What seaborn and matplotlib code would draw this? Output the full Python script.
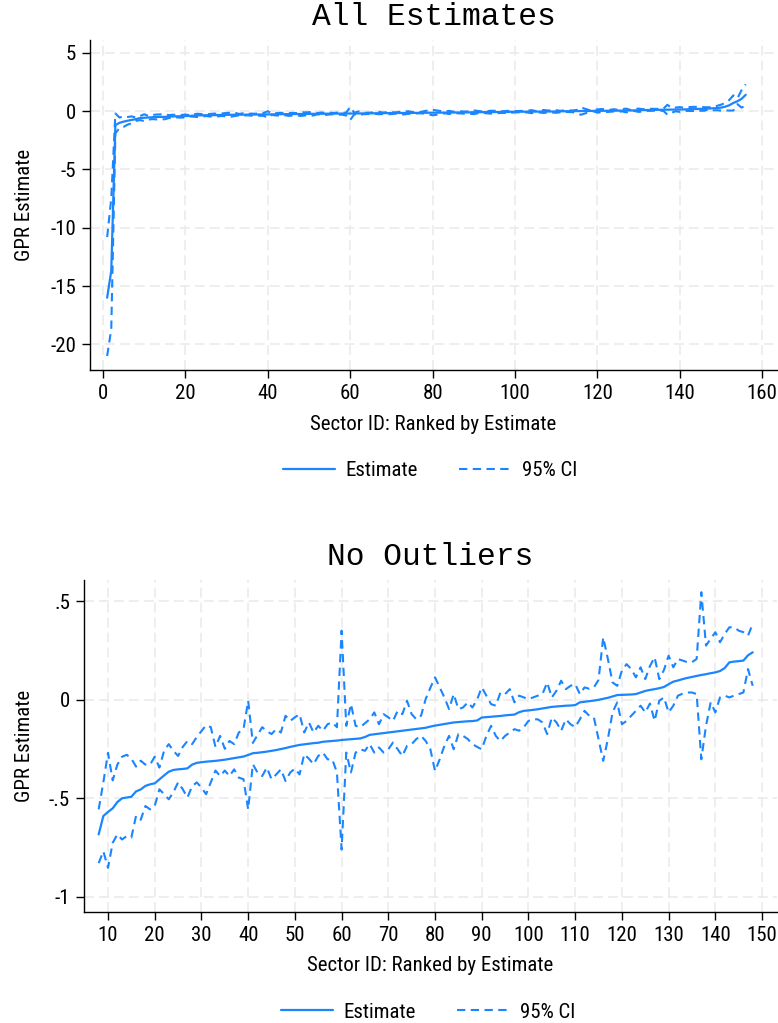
import numpy as np
import pandas as pd
import matplotlib
matplotlib.use("Agg")
import matplotlib.pyplot as plt
import seaborn as sns
from matplotlib.lines import Line2D
from matplotlib import font_manager as fm

# ---------------- data ----------------
sector_id = list(range(1, 157))

estimate_head = [-16.0, -13.7, -1.2, -1.0, -0.9, -0.82, -0.75]
estimate_mid = [
    -0.684, -0.591, -0.570, -0.552, -0.520, -0.501, -0.497, -0.493, -0.466, -0.456,
    -0.438, -0.430, -0.425, -0.405, -0.385, -0.366, -0.357, -0.354, -0.352, -0.349,
    -0.330, -0.321, -0.318, -0.315, -0.313, -0.311, -0.308, -0.305, -0.301, -0.297,
    -0.293, -0.289, -0.281, -0.272, -0.270, -0.267, -0.264, -0.260, -0.256, -0.251,
    -0.246, -0.240, -0.235, -0.230, -0.227, -0.224, -0.221, -0.219, -0.214, -0.212,
    -0.210, -0.208, -0.205, -0.203, -0.201, -0.199, -0.197, -0.190, -0.179, -0.176,
    -0.173, -0.170, -0.167, -0.164, -0.161, -0.158, -0.155, -0.152, -0.149, -0.146,
    -0.143, -0.137, -0.132, -0.128, -0.124, -0.120, -0.116, -0.114, -0.112, -0.110,
    -0.109, -0.106, -0.091, -0.089, -0.087, -0.085, -0.083, -0.080, -0.078, -0.076,
    -0.064, -0.057, -0.055, -0.052, -0.049, -0.045, -0.041, -0.037, -0.035, -0.033,
    -0.031, -0.030, -0.028, -0.014, -0.011, -0.008, -0.005, -0.001, 0.004, 0.009,
    0.016, 0.023, 0.024, 0.025, 0.026, 0.028, 0.036, 0.044, 0.049, 0.053,
    0.058, 0.064, 0.078, 0.091, 0.097, 0.104, 0.110, 0.115, 0.120, 0.125,
    0.129, 0.134, 0.138, 0.145, 0.160, 0.189, 0.193, 0.195, 0.198, 0.225,
    0.240,
]
estimate_tail = [0.26, 0.30, 0.38, 0.50, 0.70, 0.85, 1.05, 1.40]

upper_head = [-10.8, -7.5, -0.2, -0.55, -0.45, -0.5, -0.45]
upper_mid = [
    -0.557, -0.42, -0.27, -0.41, -0.33, -0.29, -0.28, -0.30, -0.34, -0.31,
    -0.33, -0.33, -0.29, -0.345, -0.26, -0.226, -0.26, -0.286, -0.24, -0.21,
    -0.226, -0.19, -0.16, -0.13, -0.14, -0.24, -0.184, -0.25, -0.21, -0.226,
    -0.167, -0.15, -0.006, -0.22, -0.18, -0.14, -0.16, -0.175, -0.15, -0.167,
    -0.082, -0.108, -0.09, -0.074, -0.167, -0.116, -0.167, -0.133, -0.158, -0.125,
    -0.116, -0.14, 0.35, -0.133, -0.023, -0.133, -0.14, -0.12, -0.10, -0.065,
    -0.125, -0.074, -0.09, -0.108, -0.057, -0.074, -0.006, -0.074, -0.10, -0.082,
    0.003, 0.06, 0.113, 0.062, 0.011, -0.048, 0.028, -0.048, -0.04, -0.014,
    -0.04, 0.0, 0.062, 0.02, -0.023, -0.031, 0.036, 0.028, 0.053, -0.014,
    0.02, 0.011, 0.003, 0.011, 0.02, 0.028, 0.087, 0.011, 0.045, 0.096,
    0.053, 0.07, 0.079, 0.028, 0.062, 0.055, 0.062, 0.10, 0.316, 0.206,
    0.087, 0.07, 0.147, 0.18, 0.155, 0.113, 0.164, 0.104, 0.17, 0.215,
    0.104, 0.15, 0.223, 0.164, 0.206, 0.198, 0.19, 0.19, 0.206, 0.545,
    0.274, 0.308, 0.342, 0.291, 0.333, 0.367, 0.367, 0.35, 0.342, 0.325,
    0.384,
]
upper_tail = [0.45, 0.55, 0.70, 0.95, 1.35, 1.10, 1.80, 2.30]

lower_head = [-21.0, -18.7, -1.9, -1.45, -1.35, -1.15, -1.05]
lower_mid = [
    -0.83, -0.77, -0.854, -0.727, -0.684, -0.71, -0.693, -0.70, -0.59, -0.61,
    -0.54, -0.557, -0.54, -0.455, -0.48, -0.506, -0.47, -0.42, -0.455, -0.497,
    -0.44, -0.42, -0.447, -0.48, -0.42, -0.36, -0.388, -0.36, -0.388, -0.354,
    -0.396, -0.404, -0.557, -0.328, -0.37, -0.388, -0.345, -0.404, -0.38, -0.354,
    -0.413, -0.37, -0.35, -0.38, -0.277, -0.30, -0.328, -0.286, -0.269, -0.303,
    -0.303, -0.37, -0.761, -0.269, -0.37, -0.269, -0.252, -0.26, -0.226, -0.269,
    -0.243, -0.269, -0.252, -0.218, -0.252, -0.286, -0.235, -0.226, -0.20, -0.184,
    -0.21, -0.252, -0.362, -0.303, -0.235, -0.184, -0.252, -0.175, -0.184, -0.20,
    -0.226, -0.24, -0.252, -0.184, -0.133, -0.184, -0.21, -0.184, -0.167, -0.15,
    -0.158, -0.14, -0.108, -0.1, -0.1, -0.116, -0.175, -0.091, -0.116, -0.158,
    -0.1, -0.125, -0.14, -0.1, -0.057, -0.082, -0.09, -0.2, -0.311, -0.2,
    -0.065, -0.014, -0.125, -0.108, -0.082, -0.057, -0.031, -0.065, -0.02, -0.108,
    -0.006, 0.011, -0.065, -0.031, 0.02, 0.03, 0.036, 0.036, 0.028, -0.303,
    -0.133, -0.014, -0.065, 0.011, 0.02, 0.011, 0.02, 0.028, 0.036, 0.155,
    0.07,
]
lower_tail = [0.07, 0.05, 0.06, 0.05, 0.05, 0.60, 0.30, 0.50]

estimate = estimate_head + estimate_mid + estimate_tail
ci_upper = upper_head + upper_mid + upper_tail
ci_lower = lower_head + lower_mid + lower_tail

no_outlier_range = (8, 148)

top_title = "All Estimates"
bottom_title = "No Outliers"
x_label = "Sector ID: Ranked by Estimate"
y_label = "GPR Estimate"
legend_labels = ["Estimate", "95% CI"]

top_yticks = [-20, -15, -10, -5, 0, 5]
top_ytick_labels = ["-20", "-15", "-10", "-5", "0", "5"]
top_xticks = [0, 20, 40, 60, 80, 100, 120, 140, 160]
bottom_yticks = [-1, -0.5, 0, 0.5]
bottom_ytick_labels = ["-1", "-.5", "0", ".5"]
bottom_xticks = [10, 20, 30, 40, 50, 60, 70, 80, 90, 100, 110, 120, 130, 140, 150]

# ---------------- style ----------------
sns.set_style("white")
plt.rcParams.update({"text.color": "black", "axes.labelcolor": "black",
                     "xtick.color": "black", "ytick.color": "black"})


def find_narrow():
    prefs = ["Liberation Sans Narrow", "Arial Narrow", "Roboto Condensed",
             "Open Sans Condensed", "Noto Sans Condensed"]
    for p in prefs:
        for f in fm.fontManager.ttflist:
            if f.name == p and f.style == "normal" and f.weight in (400, "normal", "regular"):
                return f
    for p in ["Roboto", "Noto Sans", "Open Sans", "Liberation Sans"]:
        for f in fm.fontManager.ttflist:
            if (f.name == p and f.stretch in ("condensed", "semi-condensed")
                    and f.style == "normal" and f.weight in (400, "normal", "regular")):
                return f
    return None


narrow = find_narrow()
if narrow is not None:
    TEXT_FP = dict(fname=narrow.fname)
    FS = 15
else:
    TEXT_FP = dict(family=["Liberation Sans", "DejaVu Sans"])
    FS = 13


def fp(size=None):
    return fm.FontProperties(size=size or FS, **TEXT_FP)


BLUE = "#1a85ff"
GRID = "#eaeaea"
DASH = (0, (4, 2.6))
TITLE_FONT = ["Liberation Mono", "DejaVu Sans Mono"]

df = pd.DataFrame({"sector": sector_id, "estimate": estimate,
                   "upper": ci_upper, "lower": ci_lower})
df_no = df[(df["sector"] >= no_outlier_range[0]) & (df["sector"] <= no_outlier_range[1])]

W, H = 778, 1023
fig = plt.figure(figsize=(W / 100, H / 100), dpi=100)
ax1 = fig.add_axes([90 / W, 1 - 370 / H, 687 / W, 330 / H])
ax2 = fig.add_axes([84 / W, 1 - 912 / H, 693 / W, 332 / H])


def draw(ax, data, xticks, yticks, ylabels):
    ax.grid(True, color=GRID, linestyle=(0, (6.5, 3.3)), linewidth=1.1)
    ax.set_axisbelow(True)
    sns.lineplot(data=data, x="sector", y="estimate", ax=ax, color=BLUE,
                 linewidth=1.6, estimator=None, sort=False)
    sns.lineplot(data=data, x="sector", y="upper", ax=ax, color=BLUE,
                 linewidth=1.5, linestyle=DASH, estimator=None, sort=False)
    sns.lineplot(data=data, x="sector", y="lower", ax=ax, color=BLUE,
                 linewidth=1.5, linestyle=DASH, estimator=None, sort=False)
    for s in ["top", "right"]:
        ax.spines[s].set_visible(False)
    for s in ["left", "bottom"]:
        ax.spines[s].set_color("black")
        ax.spines[s].set_linewidth(1.0)
    ax.tick_params(axis="both", direction="out", length=6, width=1,
                   color="black", labelcolor="black", pad=4, left=True, bottom=True)
    ax.set_xticks(xticks)
    ax.set_xticklabels([str(t) for t in xticks], fontproperties=fp())
    ax.set_yticks(yticks)
    ax.set_yticklabels(ylabels, fontproperties=fp())
    ax.set_xlabel(x_label, fontproperties=fp(), color="black")
    ax.set_ylabel(y_label, fontproperties=fp(), color="black")


draw(ax1, df, top_xticks, top_yticks, top_ytick_labels)
ax1.set_xlim(-3.16, 163.6)
ax1.set_ylim(-22.2, 6.1)
ax1.yaxis.set_label_coords(-0.081, 0.5)
ax1.xaxis.set_label_coords(0.5, -0.135)

draw(ax2, df_no, bottom_xticks, bottom_yticks, bottom_ytick_labels)
ax2.set_xlim(4.86, 153.2)
ax2.set_ylim(-1.078, 0.607)
ax2.yaxis.set_label_coords(-0.072, 0.5)
ax2.xaxis.set_label_coords(0.5, -0.134)

fig.text(433.5 / W, 1 - 17 / H, top_title, ha="center", va="center",
         family=TITLE_FONT, fontsize=22.5, color="black")
fig.text(430.5 / W, 1 - 557 / H, bottom_title, ha="center", va="center",
         family=TITLE_FONT, fontsize=22.5, color="black")

handles = [Line2D([], [], color=BLUE, linewidth=1.6),
           Line2D([], [], color=BLUE, linewidth=1.5, linestyle=DASH)]
for (cx, cy) in [(430 / W, 1 - 471 / H), (428 / W, 1 - 1012 / H)]:
    leg = fig.legend(handles, legend_labels, loc="center", bbox_to_anchor=(cx, cy),
                     ncol=2, frameon=False, prop=fp(), handlelength=2.5,
                     handletextpad=0.5, columnspacing=2.0)
    for t in leg.get_texts():
        t.set_color("black")

fig.savefig("out.png", dpi=100)
